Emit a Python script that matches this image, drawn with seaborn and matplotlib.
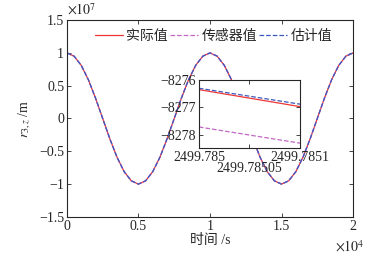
import numpy as np
import pandas as pd
import matplotlib
matplotlib.use('Agg')
import matplotlib.pyplot as plt
import seaborn as sns
from matplotlib.ticker import FuncFormatter
from matplotlib.transforms import blended_transform_factory

sns.set_style('ticks')
plt.rcParams['font.family'] = ['Liberation Serif', 'Noto Sans CJK SC']
plt.rcParams['mathtext.fontset'] = 'stix'

# time samples (s) and r_3,z (units of 1e7 m)
time_s = [0, 500, 1000, 1500, 2000, 2500, 3000, 3500, 4000, 4500, 5000,
          5500, 6000, 6500, 7000, 7500, 8000, 8500, 9000, 9500, 10000,
          10500, 11000, 11500, 12000, 12500, 13000, 13500, 14000, 14500, 15000,
          15500, 16000, 16500, 17000, 17500, 18000, 18500, 19000, 19500, 20000]
r_val = [1.00, 0.95, 0.81, 0.59, 0.31, 0.00, -0.31, -0.59, -0.81, -0.95, -1.00,
         -0.95, -0.81, -0.59, -0.31, 0.00, 0.31, 0.59, 0.81, 0.95, 1.00,
         0.95, 0.81, 0.59, 0.31, 0.00, -0.31, -0.59, -0.81, -0.95, -1.00,
         -0.95, -0.81, -0.59, -0.31, 0.00, 0.31, 0.59, 0.81, 0.95, 1.00]

# zoomed window
zoom_t = [2499.785, 2499.7851]
zoom_true = [-8276.35, -8276.97]
zoom_sensor = [-8277.71, -8278.30]
zoom_est = [-8276.30, -8276.88]

labels = ['实际值', '传感器值', '估计值']
colors = ['#ee3535', '#c468c4', '#3a5ac0']
styles = ['-', '--', '--']

df = pd.DataFrame({'t': time_s, 'r': np.array(r_val) * 1e7})

fig = plt.figure(figsize=(3.76, 2.54), dpi=100)
ax = fig.add_axes([0.178, 0.146, 0.761, 0.775])

for lab, c, ls in zip(labels, colors, styles):
    sns.lineplot(data=df, x='t', y='r', ax=ax, color=c, linestyle=ls,
                 linewidth=0.9, label=lab, dashes=False)

ax.set_xlim(0, 20000)
ax.set_ylim(-1.5e7, 1.5e7)
ax.set_xticks([0, 5000, 10000, 15000, 20000])
ax.set_yticks(np.arange(-1.5e7, 1.6e7, 0.5e7))
ax.xaxis.set_major_formatter(FuncFormatter(lambda v, p: f'{v / 1e4:g}'))
ax.yaxis.set_major_formatter(FuncFormatter(
    lambda v, p: f'{v / 1e7:g}'.replace('-', '\u2212')))
ax.tick_params(direction='in', top=True, right=True, labelsize=10, length=3,
               width=0.6, pad=2)
for s in ax.spines.values():
    s.set_linewidth(0.8)
ax.text(0.0, 1.01, r'$\times 10^7$', transform=ax.transAxes, fontsize=10,
        ha='left', va='bottom')
ax.text(1.04, -0.115, r'$\times 10^4$', transform=ax.transAxes, fontsize=10,
        ha='right', va='top')
ax.set_xlabel('时间 /s', fontsize=10, labelpad=1)
ax.set_ylabel(r'$r_{3,z}$ /m', fontsize=10, labelpad=4)

ax.legend(loc='upper right', ncol=3, frameon=False, fontsize=10,
          handlelength=2.0, handletextpad=0.25, columnspacing=0.15,
          bbox_to_anchor=(0.96, 1.0), borderaxespad=0.3)

# inset
ins = fig.add_axes([0.529, 0.417, 0.269, 0.268])
sns.lineplot(x=zoom_t, y=zoom_true, ax=ins, color=colors[0], linestyle='-', linewidth=0.9)
sns.lineplot(x=zoom_t, y=zoom_sensor, ax=ins, color=colors[1], linestyle='--', linewidth=0.9)
sns.lineplot(x=zoom_t, y=zoom_est, ax=ins, color=colors[2], linestyle='--', linewidth=0.9)
ins.set_xlim(2499.785, 2499.7851)
ins.set_ylim(-8278.48, -8276.0)
ins.set_yticks([-8276, -8277, -8278])
ins.set_yticklabels(['\u22128276', '\u22128277', '\u22128278'])
ins.set_xticks([2499.785, 2499.78505, 2499.7851])
ins.set_xticklabels(['2499.785', '', '2499.7851'])
ins.tick_params(direction='in', top=True, right=True, labelsize=10, length=3,
                width=0.6, pad=2)
# middle tick label sits on a second row
trans = blended_transform_factory(ins.transData, ins.transAxes)
ins.text(2499.78505, -0.2, '2499.78505', transform=trans, fontsize=10,
         ha='center', va='top')
for s in ins.spines.values():
    s.set_linewidth(0.8)

fig.savefig('out.png', dpi=100)
